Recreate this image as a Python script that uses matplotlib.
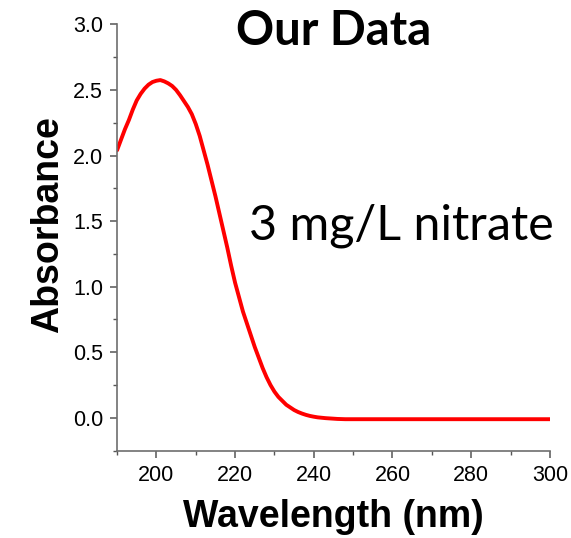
import matplotlib
matplotlib.use('Agg')
import matplotlib.pyplot as plt
from matplotlib.ticker import MultipleLocator

# spectrum
wavelength = [190, 191, 192, 193, 194, 195, 196, 197, 198, 199, 200, 201, 202, 203, 204, 205,
              206, 207, 208, 209, 210, 211, 212, 213, 214, 215, 216, 217, 218, 219, 220, 221,
              222, 223, 224, 225, 226, 227, 228, 229, 230, 231, 232, 233, 234, 235, 236, 237,
              238, 239, 240, 241, 242, 243, 244, 245, 246, 248, 260, 280, 300]
absorbance = [2.04, 2.12, 2.20, 2.27, 2.35, 2.42, 2.47, 2.51, 2.54, 2.56, 2.57, 2.575, 2.565,
              2.55, 2.53, 2.50, 2.46, 2.415, 2.37, 2.315, 2.24, 2.15, 2.04, 1.93, 1.81, 1.69,
              1.56, 1.43, 1.30, 1.16, 1.03, 0.92, 0.81, 0.72, 0.63, 0.54, 0.46, 0.38, 0.31,
              0.25, 0.20, 0.16, 0.13, 0.10, 0.08, 0.06, 0.045, 0.033, 0.023, 0.015, 0.009,
              0.004, 0.001, -0.002, -0.004, -0.006, -0.008, -0.01, -0.01, -0.01, -0.01]

fig = plt.figure(figsize=(5.71, 5.38), dpi=100)
ax = fig.add_axes([0.205, 0.1623, 0.758, 0.7925])

ax.plot(wavelength, absorbance, color='red', lw=2.8, solid_capstyle='round', solid_joinstyle='round')

ax.set_xlim(190, 300)
ax.set_ylim(-0.25, 3.0)
ax.xaxis.set_major_locator(MultipleLocator(20))
ax.xaxis.set_minor_locator(MultipleLocator(10))
ax.yaxis.set_major_locator(MultipleLocator(0.5))
ax.yaxis.set_minor_locator(MultipleLocator(0.25))
ax.yaxis.set_major_formatter(plt.FormatStrFormatter('%.1f'))

for side in ['top', 'right']:
    ax.spines[side].set_visible(False)
for side in ['left', 'bottom']:
    ax.spines[side].set_color('#6e6e6e')
    ax.spines[side].set_linewidth(1.2)

ax.tick_params(which='major', direction='out', length=5, width=1.1, color='#555555',
               labelsize=15.5, pad=5)
ax.tick_params(which='minor', direction='out', length=3, width=1.0, color='#555555')
for lab in ax.get_xticklabels() + ax.get_yticklabels():
    lab.set_family('Liberation Sans')

ax.set_xlabel('Wavelength (nm)', family='Liberation Sans', fontweight='bold', fontsize=27, labelpad=10)
ax.set_ylabel('Absorbance', family='Liberation Sans', fontweight='bold', fontsize=27)
ax.yaxis.set_label_coords(-0.118, 0.53)

fig.text(334 / 571, 1 - 45 / 538, 'Our Data', family='Lato', fontweight='bold', fontsize=34,
         ha='center', va='baseline')
fig.text(249 / 571, 1 - 240 / 538, '3 mg/L nitrate', family='Lato', fontsize=34.8,
         ha='left', va='baseline')

fig.savefig('out.png', dpi=100)
